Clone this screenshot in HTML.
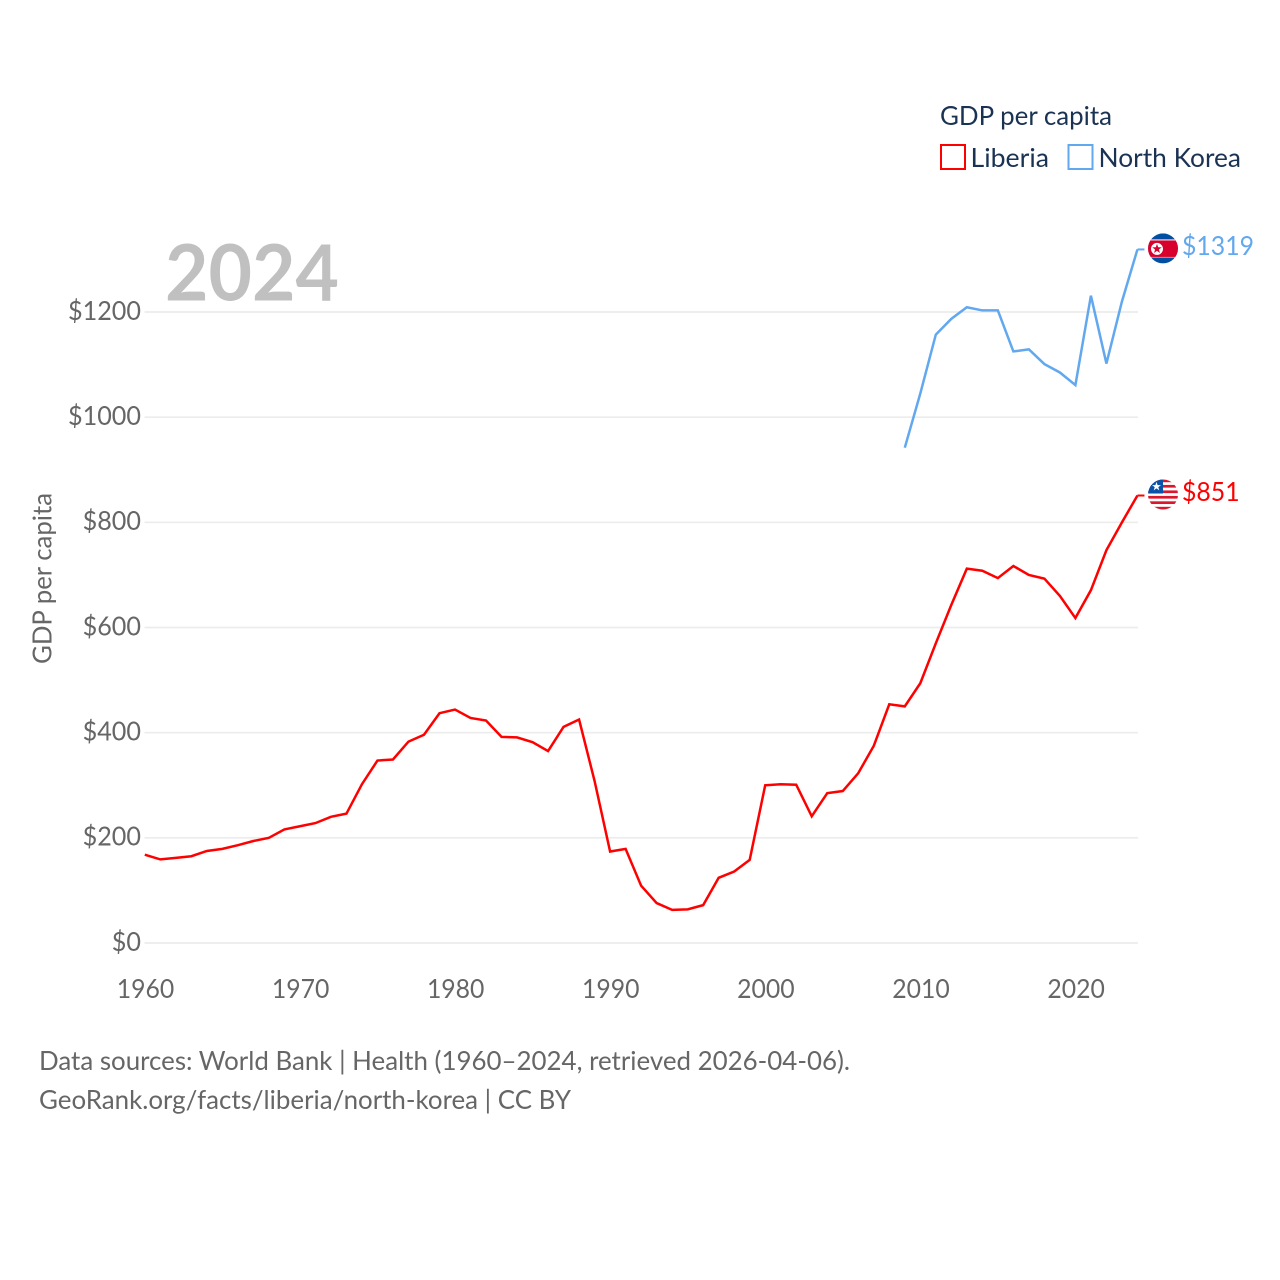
<!DOCTYPE html>
<html lang="en">
<head>
<meta charset="utf-8">
<title>GDP per capita: Liberia and North Korea</title>
<style>
html,body{margin:0;padding:0;background:#fff;}
svg{display:block;font-family:"Lato","Carlito","Liberation Sans",sans-serif;}
</style>
</head>
<body>
<svg id="chart" xmlns="http://www.w3.org/2000/svg" width="1280" height="1280" viewBox="0 0 1280 1280">
  <defs>
    <clipPath id="flag-clip"><circle cx="0" cy="0" r="15"></circle></clipPath>
  </defs>
  <rect x="0" y="0" width="1280" height="1280" fill="#ffffff"></rect>
  <g id="grid"></g>
  <g id="yticks"></g>
  <g id="xticks"></g>
  <text x="165" y="300.5" font-size="78" font-weight="700" fill="#c0c0c0" textLength="174" lengthAdjust="spacingAndGlyphs">2024</text>
  <text transform="translate(51.5 578.5) rotate(-90)" text-anchor="middle" font-size="26" fill="#666666" textLength="171" lengthAdjust="spacingAndGlyphs">GDP per capita</text>
  <g id="series"></g>

  <g id="flag-north-korea">
    <g clip-path="url(#flag-clip)">
      <rect x="-15" y="-15" width="30" height="30" fill="#024fa2"></rect>
      <rect x="-15" y="-9" width="30" height="18" fill="#ffffff"></rect>
      <rect x="-15" y="-8" width="30" height="16.5" fill="#d8002c"></rect>
      <circle cx="-6" cy="0.5" r="6" fill="#ffffff"></circle>
      <polygon points="-6,-4.6 -4.8,-1.2 -1.2,-1.1 -4.1,1.1 -3,4.6 -6,2.5 -9,4.6 -7.9,1.1 -10.8,-1.1 -7.2,-1.2" fill="#d8002c"></polygon>
    </g>
  </g>
  <g id="flag-liberia">
    <g clip-path="url(#flag-clip)">
      <rect x="-15" y="-15" width="30" height="30" fill="#ffffff"></rect>
      <rect x="-15" y="-15" width="30" height="2.7" fill="#d9182e"></rect>
      <rect x="-15" y="-9.6" width="30" height="2.7" fill="#d9182e"></rect>
      <rect x="-15" y="-4.1" width="30" height="2.7" fill="#d9182e"></rect>
      <rect x="-15" y="1.4" width="30" height="2.7" fill="#d9182e"></rect>
      <rect x="-15" y="6.8" width="30" height="2.7" fill="#d9182e"></rect>
      <rect x="-15" y="12.3" width="30" height="2.7" fill="#d9182e"></rect>
      <rect x="-15" y="-15" width="15" height="14" fill="#0a52a8"></rect>
      <polygon points="-6.5,-12.6 -5.4,-9.4 -2,-9.4 -4.7,-7.4 -3.7,-4.2 -6.5,-6.1 -9.3,-4.2 -8.3,-7.4 -11,-9.4 -7.6,-9.4" fill="#ffffff"></polygon>
    </g>
  </g>
  <g id="end-labels"></g>

  <g>
    <text x="940" y="125" font-size="26" fill="#1b3353" textLength="172" lengthAdjust="spacingAndGlyphs">GDP per capita</text>
    <g>
      <rect x="941" y="145" width="24" height="24" fill="#ffffff" stroke="#ff0000" stroke-width="2"></rect>
      <text x="970.5" y="167" font-size="26" fill="#1b3353" textLength="78.5" lengthAdjust="spacingAndGlyphs">Liberia</text>
    </g>
    <g>
      <rect x="1068.5" y="145" width="24" height="24" fill="#ffffff" stroke="#62a8ee" stroke-width="2"></rect>
      <text x="1098.5" y="167" font-size="26" fill="#1b3353" textLength="142.5" lengthAdjust="spacingAndGlyphs">North Korea</text>
    </g>
  </g>

  <text x="39" y="1070" font-size="26" fill="#666666" textLength="811" lengthAdjust="spacingAndGlyphs">Data sources: World Bank | Health (1960–2024, retrieved 2026-04-06).</text>
  <text x="39" y="1109" font-size="26" fill="#666666" textLength="532" lengthAdjust="spacingAndGlyphs">GeoRank.org/facts/liberia/north-korea | CC BY</text>
</svg>

<script>
const liberiaYears = [1960,1961,1962,1963,1964,1965,1966,1967,1968,1969,1970,1971,1972,1973,1974,1975,1976,1977,1978,1979,1980,1981,1982,1983,1984,1985,1986,1987,1988,1989,1990,1991,1992,1993,1994,1995,1996,1997,1998,1999,2000,2001,2002,2003,2004,2005,2006,2007,2008,2009,2010,2011,2012,2013,2014,2015,2016,2017,2018,2019,2020,2021,2022,2023,2024];
const liberiaValues = [168,159,162,165,175,179,186,194,200,216,222,228,240,246,302,347,349,383,396,437,444,428,423,392,391,382,365,411,425,308,174,179,109,76,63,64,72,124,136,158,300,302,301,241,285,289,323,375,454,450,494,570,643,712,708,694,717,700,693,660,618,671,747,800,851];
const northKoreaYears = [2009,2010,2011,2012,2013,2014,2015,2016,2017,2018,2019,2020,2021,2022,2023,2024];
const northKoreaValues = [942,1045,1157,1187,1209,1203,1203,1125,1129,1101,1085,1061,1231,1102,1220,1319];
const yTickValues = [0,200,400,600,800,1000,1200];
const xTickYears = [1960,1970,1980,1990,2000,2010,2020];

const SVG_NS = 'http://www.w3.org/2000/svg';
function xScale(year){ return 144.8 + (year - 1960) * 15.51; }
function yScale(value){ return 943 - value * 0.52583; }
function make(tag, attrs, parent){
  const el = document.createElementNS(SVG_NS, tag);
  for (const k in attrs) el.setAttribute(k, attrs[k]);
  parent.appendChild(el);
  return el;
}

const gridLayer = document.getElementById('grid');
const yTickLayer = document.getElementById('yticks');
const xTickLayer = document.getElementById('xticks');
const seriesLayer = document.getElementById('series');
const labelLayer = document.getElementById('end-labels');

yTickValues.forEach(function(v){
  const line = make('line', {x1:144.5, x2:1138, y1:yScale(v), y2:yScale(v), stroke:'#ececec', 'stroke-width':1.7}, gridLayer);
  
  
  const label = '$' + v;
  const t = make('text', {x:141, y:yScale(v)+7.8, 'text-anchor':'end', 'font-size':26, fill:'#666666', textLength:label.length*14.6, lengthAdjust:'spacingAndGlyphs'}, yTickLayer);
  t.textContent = label;
  
  
});

xTickYears.forEach(function(y){
  const t = make('text', {x:xScale(y)+0.7, y:998, 'text-anchor':'middle', 'font-size':26, fill:'#666666', textLength:57.5, lengthAdjust:'spacingAndGlyphs'}, xTickLayer);
  t.textContent = String(y);
  
  
});

function drawSeries(years, values, color, lineName, stubName, labelName, flagId){
  const pts = years.map(function(y, i){ return xScale(y).toFixed(2) + ',' + yScale(values[i]).toFixed(2); }).join(' ');
  const line = make('polyline', {points:pts, fill:'none', stroke:color, 'stroke-width':2.5, 'stroke-linejoin':'miter'}, seriesLayer);
  
  
  const lastYear = years[years.length-1];
  const lastValue = values[values.length-1];
  const lx = xScale(lastYear);
  const ly = yScale(lastValue);
  const stub = make('line', {x1:lx, x2:lx+7, y1:ly, y2:ly, stroke:color, 'stroke-width':2}, seriesLayer);
  
  
  document.getElementById(flagId).setAttribute('transform', 'translate(1163 ' + (ly-1) + ')');
  const text = '$' + lastValue;
  const t = make('text', {x:1182, y:ly+5.5, 'font-size':26, fill:color, textLength:text.length*14.4, lengthAdjust:'spacingAndGlyphs'}, labelLayer);
  t.textContent = text;
  
  
}

drawSeries(liberiaYears, liberiaValues, '#ff0000', 'liberia-line', 'liberia-label-connector', 'liberia-end-value', 'flag-liberia');
drawSeries(northKoreaYears, northKoreaValues, '#62a8ee', 'north-korea-line', 'north-korea-label-connector', 'north-korea-end-value', 'flag-north-korea');
</script>
</body>
</html>
